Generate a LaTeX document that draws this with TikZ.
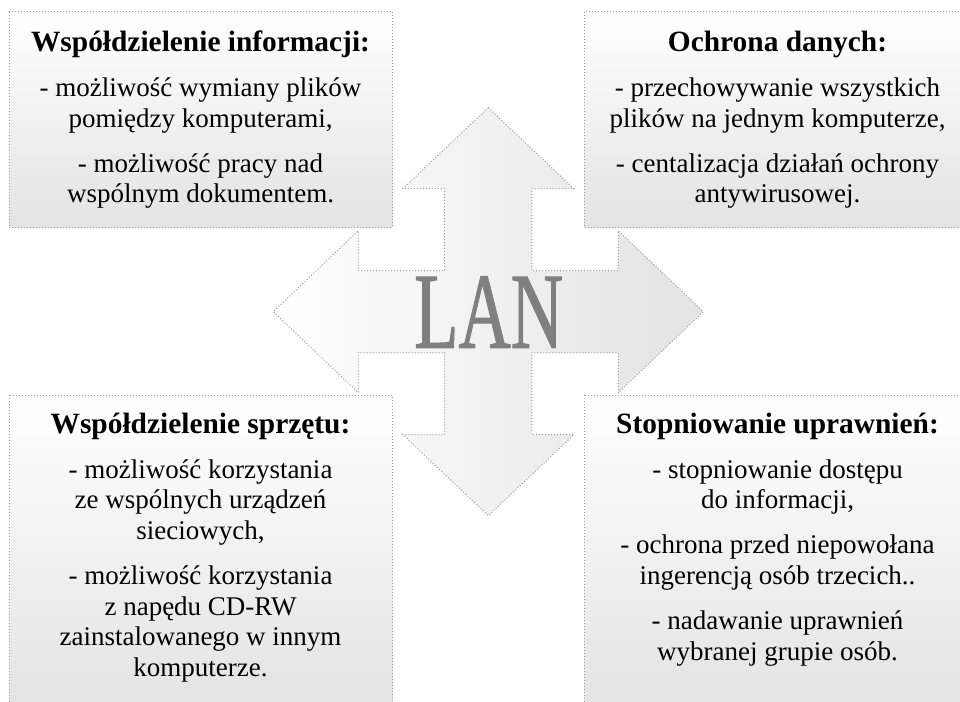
\documentclass[tikz,border=0pt]{standalone}
\usepackage{fontspec}
\setmainfont{Liberation Serif}
\newfontfamily\lanfont[FakeBold=1.2]{Liberation Serif}
\usepackage{graphicx}
\tikzset{
  dotline/.style={draw=black!38, line width=1pt, dash pattern=on 1pt off 2pt},
  panel/.style={dotline, top color=white, bottom color=black!11},
  ttl/.style={anchor=base, inner sep=0pt, font=\bfseries\fontsize{29.4}{33}\selectfont},
  body/.style={anchor=base, inner sep=0pt, font=\fontsize{27}{30}\selectfont},
}
\begin{document}
\begin{tikzpicture}[x=1pt,y=-1pt]
\clip (0,0) rectangle (960,701);
\fill[white] (0,0) rectangle (960,701);
% panels
\path[panel] (9,11.7) rectangle (392.3,227.3);
\path[panel] (584.3,11.7) rectangle (968.7,227.3);
\path[panel] (9,395.3) rectangle (392.3,712);
\path[panel] (584.3,395.3) rectangle (968.7,712);
% central four-way arrow
\path[dotline, left color=white, right color=black!11]
  (488.3,107.7) -- (573.8,188.7) -- (531.8,188.7) -- (531.8,270.7)
  -- (618.3,270.7) -- (618.3,230.7) -- (703.3,311.7) -- (618.3,392.7)
  -- (618.3,352.7) -- (531.8,352.7) -- (531.8,434.7) -- (573.8,434.7)
  -- (488.3,515.7) -- (402.8,434.7) -- (444.6,434.7) -- (444.6,352.7)
  -- (358.3,352.7) -- (358.3,392.7) -- (273.3,311.7) -- (358.3,230.7)
  -- (358.3,270.7) -- (444.6,270.7) -- (444.6,188.7) -- (402.8,188.7) -- cycle;
\node[anchor=base, inner sep=0pt, text=black!50] (lan) at (488.7,347.7)
  {\scalebox{0.67}[1]{\lanfont\fontsize{108}{108}\selectfont LAN}};
% top-left
\node[ttl] (a0) at (200.5,51.7) {Współdzielenie informacji:};
\node[body] (a1) at (200.5,96.7) {- możliwość wymiany plików};
\node[body] (a2) at (200.5,127.3) {pomiędzy komputerami,};
\node[body] (a3) at (200.5,172.3) {- możliwość pracy nad};
\node[body] (a4) at (200.5,202.9) {wspólnym dokumentem.};
% top-right
\node[ttl] (b0) at (777.5,51.7) {Ochrona danych:};
\node[body] (b1) at (777.5,96.7) {- przechowywanie wszystkich};
\node[body] (b2) at (777.5,127.3) {plików na jednym komputerze,};
\node[body] (b3) at (777.5,172.3) {- centalizacja działań ochrony};
\node[body] (b4) at (777.5,202.9) {antywirusowej.};
% bottom-left
\node[ttl] (c0) at (200.5,433.3) {Współdzielenie sprzętu:};
\node[body] (c1) at (200.5,478.3) {- możliwość korzystania};
\node[body] (c2) at (200.5,508.9) {ze wspólnych urządzeń};
\node[body] (c3) at (200.5,539.5) {sieciowych,};
\node[body] (c4) at (200.5,584.5) {- możliwość korzystania};
\node[body] (c5) at (200.5,615.1) {z napędu CD-RW};
\node[body] (c6) at (200.5,645.7) {zainstalowanego w innym};
\node[body] (c7) at (200.5,676.3) {komputerze.};
% bottom-right
\node[ttl] (d0) at (777.5,433.3) {Stopniowanie uprawnień:};
\node[body] (d1) at (777.5,478.3) {- stopniowanie dostępu};
\node[body] (d2) at (777.5,508.9) {do informacji,};
\node[body] (d3) at (777.5,553.9) {- ochrona przed niepowołana};
\node[body] (d4) at (777.5,584.5) {ingerencją osób trzecich..};
\node[body] (d5) at (777.5,629.5) {- nadawanie uprawnień};
\node[body] (d6) at (777.5,660.1) {wybranej grupie osób.};
\end{tikzpicture}
\end{document}
